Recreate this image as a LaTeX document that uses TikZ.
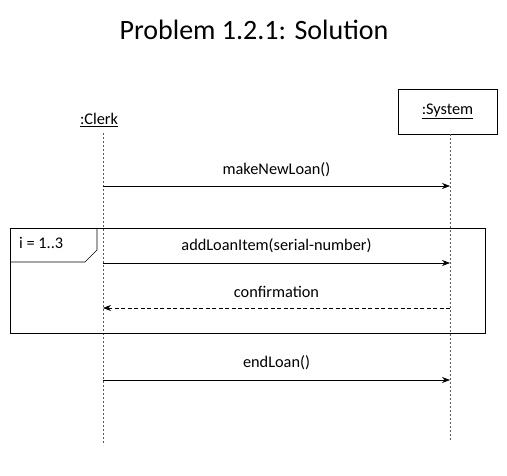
\documentclass[tikz,border=0pt]{standalone}
\usepackage{fontspec}
\setmainfont{Carlito}
\usetikzlibrary{arrows.meta}
\tikzset{
  lifeline/.style={gray!70!black,dash pattern=on 2pt off 2pt,line width=0.9pt},
  msg/.style={-{Stealth[length=8pt,width=6pt]},line width=0.7pt},
  reply/.style={msg,dash pattern=on 4pt off 2.5pt},
  msglabel/.style={font=\fontsize{16.3}{18}\selectfont,inner sep=0pt},
}
\begin{document}
\begin{tikzpicture}[x=1pt,y=-1pt]
  \useasboundingbox (0,0) rectangle (507,476);
  \node[font=\fontsize{28}{32}\selectfont] (title) at (254,30) {Problem 1.2.1: Solution};
  % participants
  \node[msglabel] (clerk) at (99,120) {\underline{:Clerk}};
  \node[draw,line width=0.7pt,minimum width=99pt,minimum height=45pt,msglabel] (system) at (447.5,111.5) {\underline{:System}};
  \coordinate (cl0) at (103,133);
  \coordinate (cl1) at (103,445);
  \coordinate (sy1) at (450,440);
  \draw[lifeline] (cl0) -- (cl1);
  \draw[lifeline] (system.south -| sy1) -- (sy1);
  % loop frame
  \draw[line width=0.7pt] (10,228) rectangle (485,333);
  \draw[line width=0.7pt] (10,262) -- (85,262) -- (97,250) -- (97,228);
  \node[msglabel,anchor=west] (loop) at (19,243) {i = 1..3};
  % messages
  \draw[msg] (103,186) -- node[msglabel,above=9pt] (m1) {makeNewLoan()} (450,186);
  \draw[msg] (103,263) -- node[msglabel,above=10pt] (m2) {addLoanItem(serial-number)} (450,263);
  \draw[reply] (450,308) -- node[msglabel,above=10pt] (m3) {confirmation} (103,308);
  \draw[msg] (103,380) -- node[msglabel,above=10pt] (m4) {endLoan()} (450,380);
\end{tikzpicture}
\end{document}
